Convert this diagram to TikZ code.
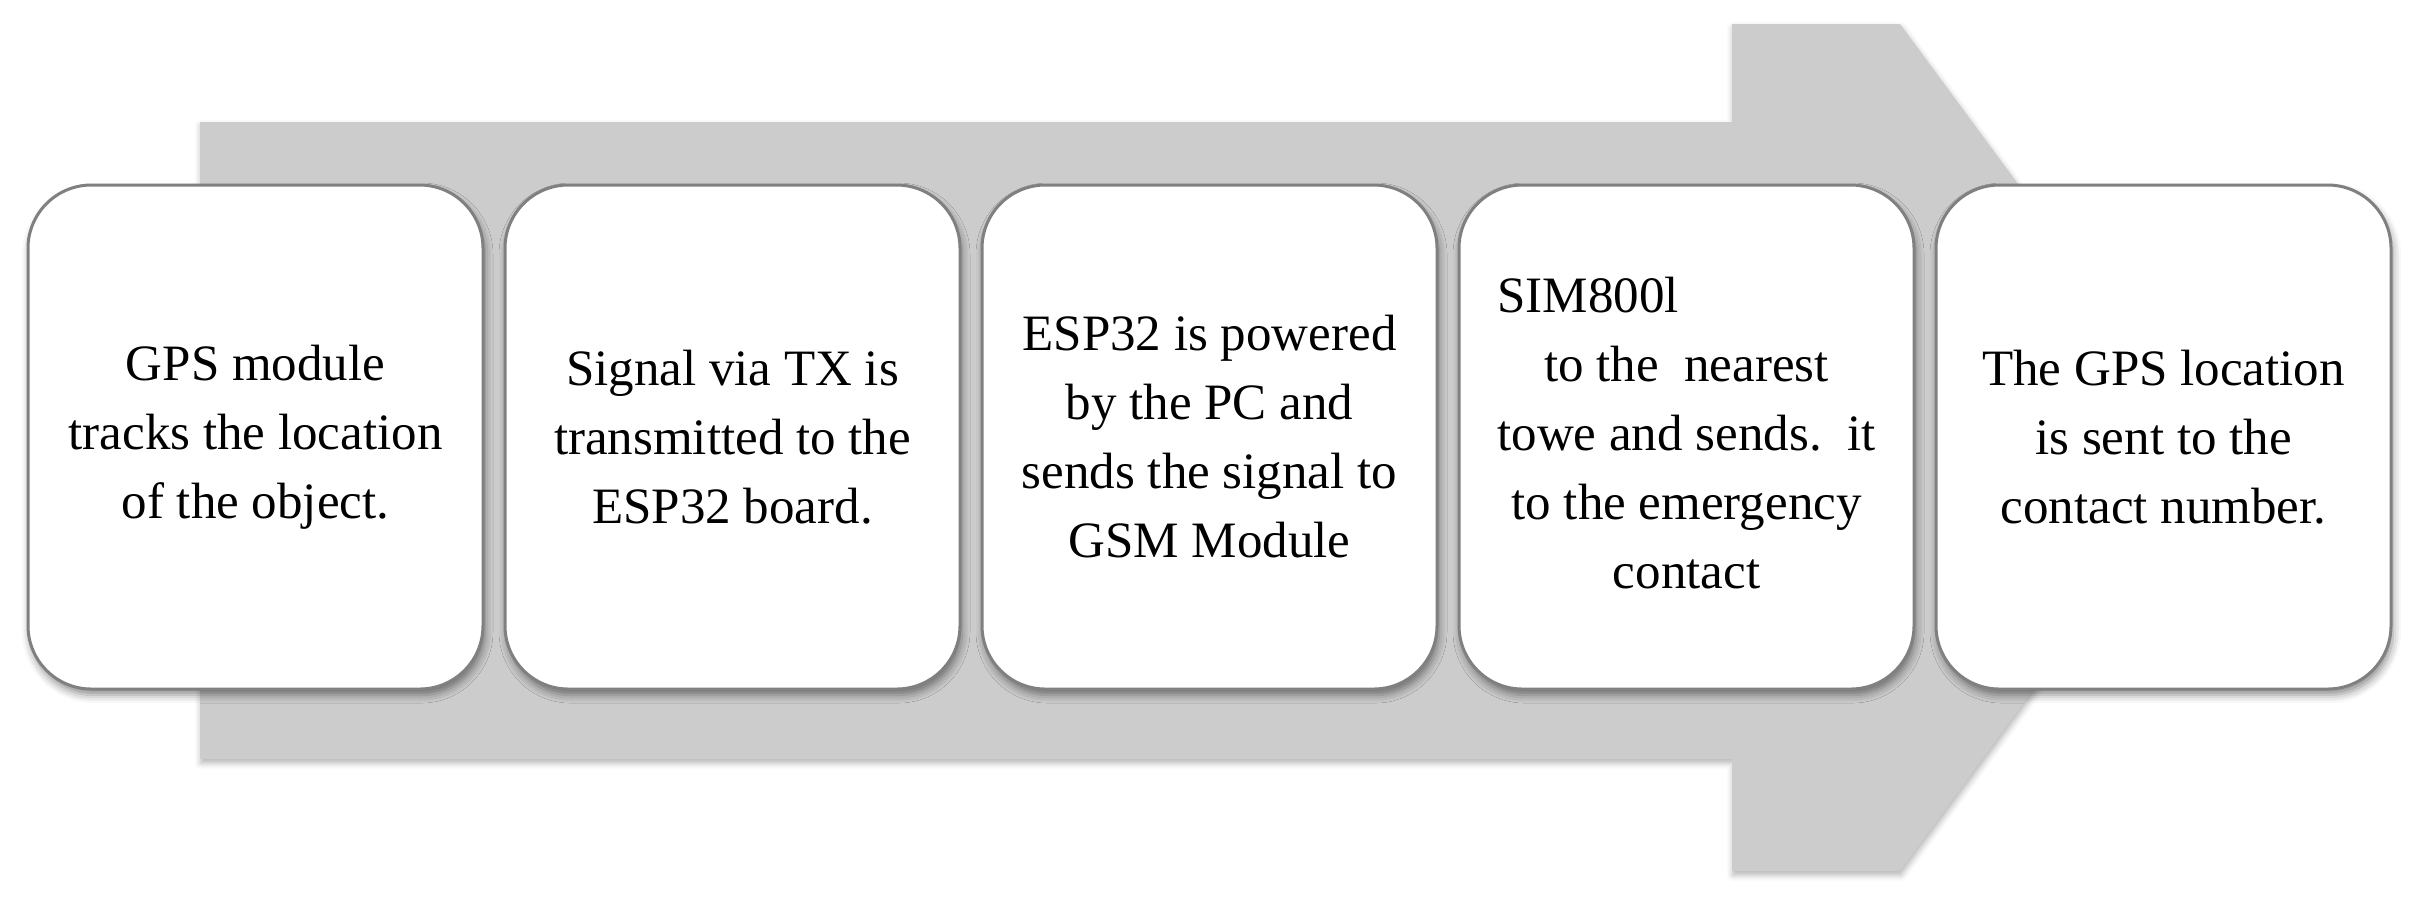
\documentclass[tikz,border=0pt]{standalone}
\usepackage{fontspec}
\setmainfont{Liberation Serif}
\usetikzlibrary{shadows,shadows.blur}
\definecolor{arrowgray}{RGB}{204,204,204}
\definecolor{boxgray}{RGB}{128,128,128}
\begin{document}
\begin{tikzpicture}[x=0.3pt,y=-0.3pt,
  stepbox/.style={draw=boxgray, line width=0.9pt, fill=white,
    rounded corners=19pt, minimum width=136.5pt, minimum height=151.2pt,
    inner sep=0pt, align=center,
    font=\fontsize{15.3}{20.7}\selectfont,
    blur shadow={shadow xshift=0.6pt, shadow yshift=-1.8pt,
      shadow blur radius=2.4pt, shadow opacity=45}},
  bigarrow/.style={fill=arrowgray,
    blur shadow={shadow xshift=0.3pt, shadow yshift=-1.2pt,
      shadow blur radius=1.8pt, shadow opacity=30}}]
\useasboundingbox (0,0) rectangle (2415,899);
% big arrow
\path[bigarrow] (200,122) -- (1732,122) -- (1732,24) -- (1900,24)
  -- (2212,447) -- (1900,871) -- (1732,871) -- (1732,759) -- (200,759) -- cycle;
% steps
\node[stepbox] (s1) at (255.5,437) {GPS module\\tracks the location\\of the object.};
\node[stepbox] (s2) at (732.5,437) {Signal via TX is\\transmitted to the\\ESP32 board.};
\node[stepbox] (s3) at (1209.5,437) {ESP32 is powered\\by the PC and\\sends the signal to\\GSM Module};
\node[stepbox] (s4) at (1686.5,437) {\begin{tabular}{@{}c@{}}\multicolumn{1}{@{}l@{}}{SIM800l}\\to the\ \ nearest\\towe and sends.\ \ it\\to the emergency\\contact\end{tabular}};
\node[stepbox] (s5) at (2163.5,437) {The GPS location\\is sent to the\\contact number.};
\end{tikzpicture}
\end{document}
